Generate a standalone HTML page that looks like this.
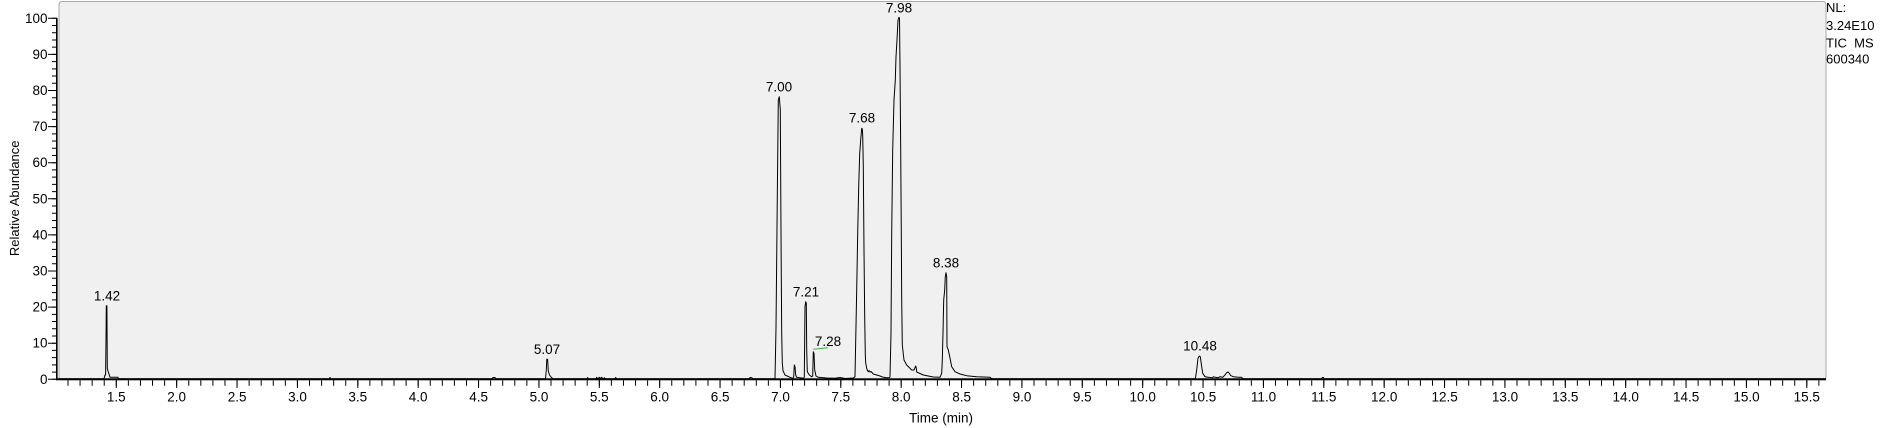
<!DOCTYPE html>
<html>
<head>
<meta charset="utf-8">
<style>
  html, body { margin: 0; padding: 0; background: #ffffff; }
  body { width: 1883px; height: 428px; overflow: hidden; }
  svg { display: block; }
  text { font-family: "Liberation Sans", Arial, sans-serif; fill: #000; }
</style>
</head>
<body>
<svg width="1883" height="428" viewBox="0 0 1883 428" xmlns="http://www.w3.org/2000/svg">
  <!-- plot frame -->
  <rect x="59" y="1.5" width="1767" height="378" rx="3" ry="3" fill="#f0f0f0" stroke="#a9a9a9" stroke-width="1"/>

  <!-- y axis -->
  <rect x="56" y="18" width="1.6" height="362" fill="#000"/>
  <!-- y minor ticks (every 2%) -->
  <line x1="54.5" y1="17.8" x2="54.5" y2="380" stroke="#000" stroke-width="5" stroke-dasharray="1 6.22"/>
  <!-- y major ticks (every 10%) -->
  <line x1="52.5" y1="17.8" x2="52.5" y2="380" stroke="#000" stroke-width="9" stroke-dasharray="1 35.1"/>

  <!-- x axis -->
  <rect x="56" y="378.3" width="1770" height="2" fill="#000"/>
  <!-- x minor ticks -->
  <line x1="67.5" y1="383" x2="1819.5" y2="383" stroke="#000" stroke-width="5.4" stroke-dasharray="1 11.075"/>
  <!-- x major ticks -->
  <line x1="115.8" y1="384" x2="1808" y2="384" stroke="#000" stroke-width="8" stroke-dasharray="1 59.375"/>

  <!-- y tick labels -->
  <g font-size="13.5" text-anchor="end">
    <text x="47.5" y="22.8">100</text>
    <text x="47.5" y="58.9">90</text>
    <text x="47.5" y="95">80</text>
    <text x="47.5" y="131.1">70</text>
    <text x="47.5" y="167.2">60</text>
    <text x="47.5" y="203.3">50</text>
    <text x="47.5" y="239.4">40</text>
    <text x="47.5" y="275.5">30</text>
    <text x="47.5" y="311.6">20</text>
    <text x="47.5" y="347.7">10</text>
    <text x="47.5" y="383.8">0</text>
  </g>

  <!-- x tick labels -->
  <g font-size="13.5" text-anchor="middle">
    <text x="116.3" y="401.7">1.5</text>
    <text x="176.7" y="401.7">2.0</text>
    <text x="237.1" y="401.7">2.5</text>
    <text x="297.5" y="401.7">3.0</text>
    <text x="357.8" y="401.7">3.5</text>
    <text x="418.2" y="401.7">4.0</text>
    <text x="478.6" y="401.7">4.5</text>
    <text x="539.0" y="401.7">5.0</text>
    <text x="599.3" y="401.7">5.5</text>
    <text x="659.7" y="401.7">6.0</text>
    <text x="720.1" y="401.7">6.5</text>
    <text x="780.5" y="401.7">7.0</text>
    <text x="840.8" y="401.7">7.5</text>
    <text x="901.2" y="401.7">8.0</text>
    <text x="961.6" y="401.7">8.5</text>
    <text x="1022.0" y="401.7">9.0</text>
    <text x="1082.3" y="401.7">9.5</text>
    <text x="1142.7" y="401.7">10.0</text>
    <text x="1203.1" y="401.7">10.5</text>
    <text x="1263.5" y="401.7">11.0</text>
    <text x="1323.8" y="401.7">11.5</text>
    <text x="1384.2" y="401.7">12.0</text>
    <text x="1444.6" y="401.7">12.5</text>
    <text x="1505.0" y="401.7">13.0</text>
    <text x="1565.3" y="401.7">13.5</text>
    <text x="1625.7" y="401.7">14.0</text>
    <text x="1686.1" y="401.7">14.5</text>
    <text x="1746.5" y="401.7">15.0</text>
    <text x="1806.8" y="401.7">15.5</text>
  </g>

  <!-- axis titles -->
  <text x="941" y="422.7" font-size="13.5" text-anchor="middle">Time (min)</text>
  <text transform="translate(19,198.3) rotate(-90)" font-size="13" text-anchor="middle">Relative Abundance</text>

  <!-- right-side info -->
  <g font-size="13">
    <text x="1826" y="12">NL:</text>
    <text x="1826" y="30">3.24E10</text>
    <text x="1826" y="47.7" xml:space="preserve">TIC  MS</text>
    <text x="1826" y="63.7">600340</text>
  </g>

  <!-- chromatogram trace -->
  <path fill="none" stroke="#000" stroke-width="1" stroke-linejoin="round" d="
    M58,378.8
    L104,378.8 L105,375 L105.6,375 L106,340 L106.3,306 L106.9,305.7 L107.3,368.3 L108,371 L109.3,375 L110,377.3 L118,377.3 L118.5,378.8
    L329,378.8 L330,377.5 L331,378.8
    L492,378.8 L493,377.5 L495,377.5 L496,378.8
    L545.5,378.8 L546.3,370 L546.8,359.3 L547.6,359.3 L548.3,371 L549.5,375 L551,377 L553,378.8
    L587,378.8 L587.7,377.5 L588.3,378.8 L596,378.8 L596.7,377.3 L597.5,378.8 L599.5,377.3 L600.5,378.5 L601.8,377.3 L602.8,378.8 L604.5,377.8 L605.5,378.8 L615,378.8 L615.7,377.5 L616.5,378.8
    L749,378.8 L750,377.5 L752,377.8 L753,378.8
    L775,378.8 L776,328 L777.3,196.7 L778.3,100 L779.3,96.7 L780.3,110 L781,233 L781.7,333 L782.3,363.3 L782.7,367 L783,370.7 L785,375 L790,377.3 L792.7,378.3
    L793.7,377.3 L794.3,365 L795,366.7 L795.7,375 L796.7,377.3 L803.3,378.3
    L804.3,377.3 L805,306.7 L805.7,301.7 L806.3,303 L806.7,350 L807.3,371.7 L809.3,375 L811.7,376.7
    L812.7,376 L813.3,351.7 L814,353.3 L814.7,370 L816,376 L818.3,377.3 L826.7,378 L835,378.3 L840,377.5 L845,378.5 L853.3,378
    L855,376.7 L856.7,290 L857.7,233.3 L858.7,186.7 L859.7,153.3 L860.7,140 L861.7,128.3 L862.3,129 L862.7,135 L863.3,166.7 L864,250 L864.7,316.7 L865.3,355 L865.7,363 L866.7,368.3 L867.5,370.7 L868.3,371.7 L869,370.5 L870,372 L871,371.5 L873.3,374 L876.7,375 L880,376 L883.3,377.3 L886.7,377.7 L889.3,377.7
    L890,377 L891,333 L891.7,233.3 L892.7,150 L894,100 L895.3,80 L896,56.7 L897,40 L898,20 L899,17.3 L899.5,18 L900,66.7 L900.7,150 L901.3,233 L901.7,300 L902.3,345 L904,360 L906.7,365 L911.7,370 L914,370 L915.3,367 L915.7,366 L916.3,368 L916.7,372 L920,373.5 L923.3,375 L933.3,377 L940,377.3
    L941.7,373.3 L942.3,360 L943,333 L943.7,300 L944.7,290 L945.3,276.7 L946,272.7 L946.7,276.7 L947,346.7 L948.3,350 L950,358 L951.7,366.7 L955,371.7 L960,374 L966.7,375.7 L976.7,376.7 L990,377.3 L991.7,378.8
    L1195,378.8 L1195.5,377.7 L1196.7,370 L1198,358.3 L1199.3,356 L1200.3,356.7 L1201.7,366.7 L1202.7,373.3 L1205,376.7 L1208.3,377.3 L1212.7,377.7 L1213.3,376.7 L1215,377.3 L1218.3,377.7 L1220,376.7 L1222.7,377.3 L1225,375 L1226.7,372.7 L1228,372 L1229.3,373.3 L1230.7,375.6 L1233.3,376.7 L1238.3,377.3 L1241.7,377.3 L1242.7,378.8
    L1321.5,378.8 L1322.3,377.5 L1323.5,377.5 L1324,378.8
    L1826,378.8"/>

  <!-- green annotation line for 7.28 -->
  <line x1="813.3" y1="349.3" x2="827.7" y2="347.7" stroke="#3cb043" stroke-width="1"/>

  <!-- peak labels -->
  <g font-size="13.5" text-anchor="middle">
    <text x="107" y="300.7">1.42</text>
    <text x="547" y="354">5.07</text>
    <text x="779" y="91.7">7.00</text>
    <text x="806" y="296.7">7.21</text>
    <text x="828" y="346">7.28</text>
    <text x="862" y="122.7">7.68</text>
    <text x="899" y="12.3">7.98</text>
    <text x="946" y="267.7">8.38</text>
    <text x="1200" y="350.7">10.48</text>
  </g>
</svg>
</body>
</html>
